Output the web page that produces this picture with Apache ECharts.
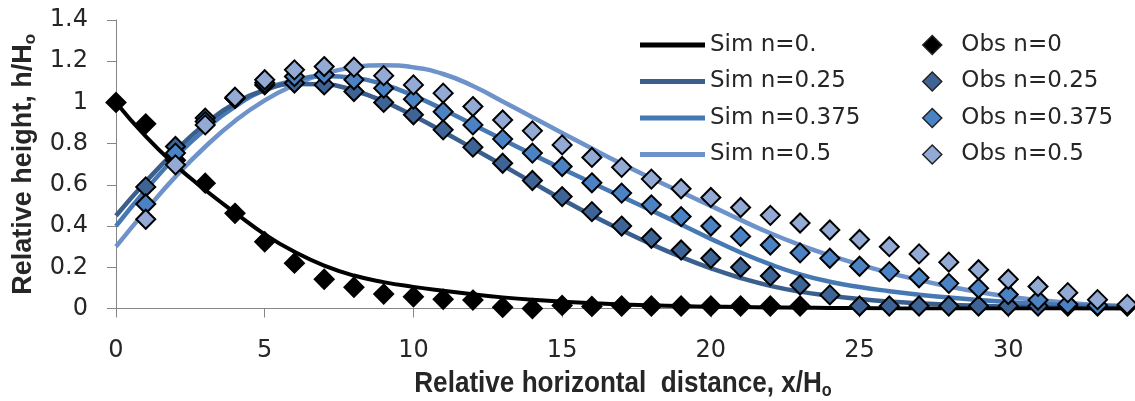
<!DOCTYPE html>
<html>
<head>
<meta charset="utf-8">
<script src="https://cdn.jsdelivr.net/npm/echarts@6/dist/echarts.min.js"></script>
<style>
  html, body { margin: 0; padding: 0; background: #ffffff; }
  #chart { width: 1135px; height: 401px; }
</style>
</head>
<body>
<div id="chart"></div>
<script>
// ---- Data ----
const obsX = [0,1,2,3,4,5,6,7,8,9,10,11,12,13,14,15,16,17,18,19,20,21,22,23,24,25,26,27,28,29,30,31,32,33,34];
const obsN0 = [1.0,0.896,0.72,0.608,0.462,0.324,0.22,0.142,0.103,0.07,0.057,0.045,0.041,0.006,0.0,0.015,0.01,0.012,0.012,0.012,0.012,0.012,0.012,0.012];
const obsN025 = [null,0.59,0.786,0.924,1.02,1.085,1.094,1.085,1.053,1.0,0.94,0.867,0.783,0.705,0.621,0.543,0.47,0.40,0.341,0.284,0.244,0.2,0.158,0.114,0.066,0.012,0.012,0.012,0.012,0.012,0.012,0.012,0.012,0.012,0.012];
const obsN0375 = [null,0.507,0.754,0.907,1.02,1.095,1.126,1.134,1.11,1.069,1.016,0.955,0.891,0.822,0.754,0.689,0.61,0.56,0.503,0.446,0.40,0.35,0.308,0.27,0.244,0.205,0.179,0.149,0.122,0.098,0.068,0.041,0.021,0.015,0.015];
const obsN05 = [null,0.433,0.697,0.891,1.025,1.11,1.158,1.174,1.171,1.13,1.085,1.045,0.98,0.915,0.862,0.794,0.733,0.685,0.628,0.581,0.539,0.49,0.452,0.415,0.381,0.335,0.30,0.265,0.225,0.188,0.142,0.107,0.077,0.043,0.02];

const simX = [0,1,2,3,4,5,6,7,8,9,10,11,12,13,14,15,16,17,18,19,20,21,22,23,24,25,26,27,28,29,30,31,32,33,34];
const simN0 = [1.0,0.835,0.695,0.575,0.465,0.36,0.275,0.208,0.16,0.128,0.105,0.086,0.069,0.054,0.042,0.033,0.026,0.02,0.016,0.012,0.009,0.007,0.005,0.004,0.003,0.002,0.001,0,0,0,0,0,0,0,0];
const simN025 = [0.45,0.615,0.765,0.895,0.995,1.06,1.09,1.088,1.058,1.005,0.935,0.858,0.777,0.695,0.612,0.53,0.452,0.38,0.312,0.25,0.195,0.148,0.11,0.082,0.062,0.046,0.034,0.025,0.018,0.013,0.009,0.006,0.004,0.002,0.001];
const simN0375 = [0.40,0.575,0.735,0.87,0.98,1.06,1.107,1.128,1.12,1.087,1.033,0.966,0.893,0.82,0.748,0.678,0.61,0.543,0.476,0.408,0.338,0.272,0.214,0.166,0.13,0.104,0.084,0.067,0.053,0.041,0.031,0.023,0.017,0.012,0.008];
const simN05 = [0.30,0.475,0.64,0.785,0.91,1.01,1.085,1.14,1.17,1.18,1.17,1.138,1.08,1.005,0.928,0.852,0.776,0.702,0.632,0.565,0.498,0.43,0.365,0.308,0.258,0.213,0.173,0.138,0.107,0.08,0.058,0.041,0.028,0.018,0.012];

const simNames = ['Sim n=0.', 'Sim n=0.25', 'Sim n=0.375', 'Sim n=0.5'];
const obsNames = ['Obs n=0', 'Obs n=0.25', 'Obs n=0.375', 'Obs n=0.5'];
const xTitle = 'Relative horizontal  distance, x/H';
const yTitle = 'Relative height, h/H';
const subO = 'o';

// ---- Helpers ----
function pairs(xs, ys) {
  const out = [];
  for (let i = 0; i < ys.length; i++) {
    if (ys[i] !== null && ys[i] !== undefined) out.push([xs[i], ys[i]]);
  }
  return out;
}

const simColors = ['#000000', '#3A5F8C', '#4678B4', '#6E93CA'];
const obsColors = ['#000000', '#3E6496', '#4B82C3', '#93AAD4'];
const simData = [simN0, simN025, simN0375, simN05];
const obsData = [obsN0, obsN025, obsN0375, obsN05];

const series = [];
[3, 2, 1, 0].forEach(function (i) {
  series.push({
    name: simNames[i],
    type: 'line',
    data: pairs(simX, simData[i]),
    smooth: 0.5,
    showSymbol: false,
    symbol: 'none',
    color: simColors[i],
    lineStyle: { color: simColors[i], width: i === 0 ? 4 : 4.5 },
    z: 2
  });
});
[0, 1, 2, 3].forEach(function (i) {
  series.push({
    name: obsNames[i],
    type: 'scatter',
    data: pairs(obsX, obsData[i]),
    symbol: 'diamond',
    symbolSize: 19,
    color: obsColors[i],
    itemStyle: { color: obsColors[i], borderColor: '#000000', borderWidth: 2, opacity: 1 },
    z: 3
  });
});

const tickFont = 'DejaVu Sans';
const textColor = '#262626';

const chart = echarts.init(document.getElementById('chart'), null, { renderer: 'canvas' });
chart.setOption({
  animation: false,
  backgroundColor: '#ffffff',
  grid: { left: 116, right: -22, top: 20, bottom: 92.5, containLabel: false, outerBoundsMode: 'none' },
  legend: [
    {
      data: simNames.map(function (n) { return { name: n, icon: 'rect' }; }),
      orient: 'vertical',
      left: 635,
      top: 27,
      itemWidth: 65,
      itemHeight: 5,
      itemGap: 10.5,
      textStyle: { fontFamily: tickFont, fontSize: 23, color: textColor, lineHeight: 26 }
    },
    {
      data: obsNames.map(function (n) { return { name: n, icon: 'diamond' }; }),
      orient: 'vertical',
      left: 917,
      top: 27,
      itemWidth: 19,
      itemHeight: 19,
      itemGap: 10.5,
      formatter: function (name) { return '  ' + name; },
      itemStyle: { borderColor: '#222222', borderWidth: 1.5 },
      textStyle: { fontFamily: tickFont, fontSize: 23, color: textColor, lineHeight: 26 }
    }
  ],
  graphic: [
    {
      type: 'text',
      x: 623,
      y: 384,
      scaleX: 0.9,
      style: {
        text: xTitle + '{sub|' + subO + '}',
        fontFamily: '"Liberation Sans", sans-serif',
        fontWeight: 'bold',
        fontSize: 29,
        fill: textColor,
        align: 'center',
        verticalAlign: 'middle',
        lineHeight: 32,
        rich: {
          sub: {
            fontFamily: '"Liberation Sans", sans-serif',
            fontWeight: 'bold',
            fontSize: 18,
            lineHeight: 18,
            verticalAlign: 'bottom',
            fill: textColor
          }
        }
      }
    }
  ],
  xAxis: {
    type: 'value',
    min: 0,
    max: 35,
    interval: 5,
    axisLine: { show: true, onZero: false, lineStyle: { color: '#868686', width: 1 } },
    axisTick: { show: true, inside: false, length: 9, lineStyle: { color: '#868686', width: 1 } },
    axisLabel: { fontFamily: tickFont, fontSize: 24, color: textColor, margin: 30 },
    splitLine: { show: false }
  },
  yAxis: {
    type: 'value',
    min: 0,
    max: 1.4,
    interval: 0.2,
    name: yTitle + '{sub|' + subO + '}',
    nameLocation: 'middle',
    nameGap: 74,
    nameTextStyle: {
      fontFamily: '"Liberation Sans", sans-serif',
      fontWeight: 'bold',
      fontSize: 27,
      color: textColor,
      lineHeight: 30,
      rich: {
        sub: {
          fontFamily: '"Liberation Sans", sans-serif',
          fontWeight: 'bold',
          fontSize: 17,
          lineHeight: 17,
          verticalAlign: 'bottom',
          color: textColor
        }
      }
    },
    axisLine: { show: true, lineStyle: { color: '#868686', width: 1 } },
    axisTick: { show: true, inside: false, length: 9, lineStyle: { color: '#868686', width: 1 } },
    axisLabel: { fontFamily: tickFont, fontSize: 24, color: textColor, margin: 28 },
    splitLine: { show: false }
  },
  series: series
});
</script>
</body>
</html>
